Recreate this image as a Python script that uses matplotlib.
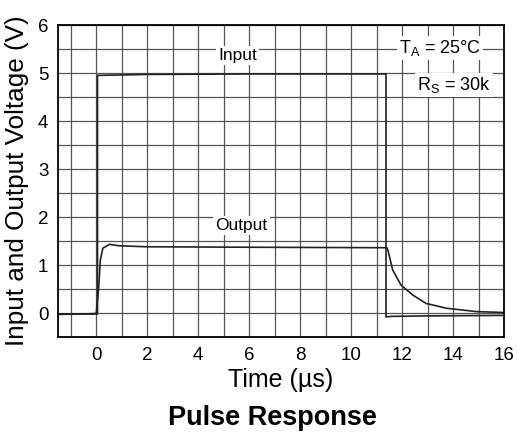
import matplotlib
matplotlib.use("Agg")
import matplotlib.pyplot as plt
import numpy as np

plt.rcParams['font.family'] = ['Liberation Sans', 'DejaVu Sans']

# Input trace (time in us, voltage in V)
input_t = [-1.5, -0.5, 0.0, 0.05, 0.05, 2.0, 6.0, 11.37, 11.37, 11.6, 13.0, 16.0]
input_v = [-0.02, -0.02, -0.02, -0.02, 4.95, 4.97, 4.98, 4.98, -0.08, -0.07, -0.06, -0.05]

# Output trace
output_t = [-1.5, -0.5, 0.0, 0.1, 0.16, 0.26, 0.52, 0.91, 1.96, 6.0, 11.4, 11.45, 11.63,
            11.96, 12.42, 12.94, 13.73, 14.9, 16.0]
output_v = [-0.03, -0.02, -0.01, 0.55, 1.1, 1.35, 1.43, 1.40, 1.38, 1.37, 1.36, 1.3, 0.9,
            0.58, 0.375, 0.2, 0.1, 0.03, 0.01]

xticks = [0, 2, 4, 6, 8, 10, 12, 14, 16]
yticks = [0, 1, 2, 3, 4, 5, 6]

fig = plt.figure(figsize=(5.17, 4.33), dpi=100)
ax = fig.add_axes([58/517, 1 - 337/433, (504-58)/517, (337-25)/433])

ax.set_xlim(-1.5, 16)
ax.set_ylim(-0.5, 6)
ax.set_xticks(np.arange(-1, 17, 1), minor=True)
ax.set_yticks(np.arange(-0.5, 6.01, 0.5), minor=True)
ax.set_xticks(xticks)
ax.set_yticks(yticks)
ax.grid(True, which='both', color='#555555', linewidth=0.9)
ax.set_axisbelow(True)
ax.tick_params(which='both', length=0, labelsize=13.5, pad=7)
for s in ax.spines.values():
    s.set_linewidth(1.3)
    s.set_color('black')

ax.plot(input_t, input_v, color='#222222', linewidth=1.2)
ax.plot(output_t, output_v, color='#222222', linewidth=1.2)

bbox = dict(facecolor='white', edgecolor='none', pad=1.5)
ax.text(5.55, 5.37, 'Input', ha='center', va='center', fontsize=12.5, bbox=bbox)
ax.text(5.7, 1.83, 'Output', ha='center', va='center', fontsize=12.5, bbox=bbox)
ax.text(13.5, 5.52, r'T$_\mathregular{A}$ = 25°C', ha='center', va='center', fontsize=13, bbox=bbox)
ax.text(14.05, 4.75, r'R$_\mathregular{S}$ = 30k', ha='center', va='center', fontsize=13, bbox=bbox)

ax.set_xlabel('Time (µs)', fontsize=18, labelpad=3)
ax.set_ylabel('Input and Output Voltage (V)', fontsize=18.8, labelpad=6)
fig.text(272/517, 1 - 425/433, 'Pulse Response', ha='center', va='baseline', fontsize=19.5, fontweight='bold')

fig.savefig('out.png', dpi=100)
